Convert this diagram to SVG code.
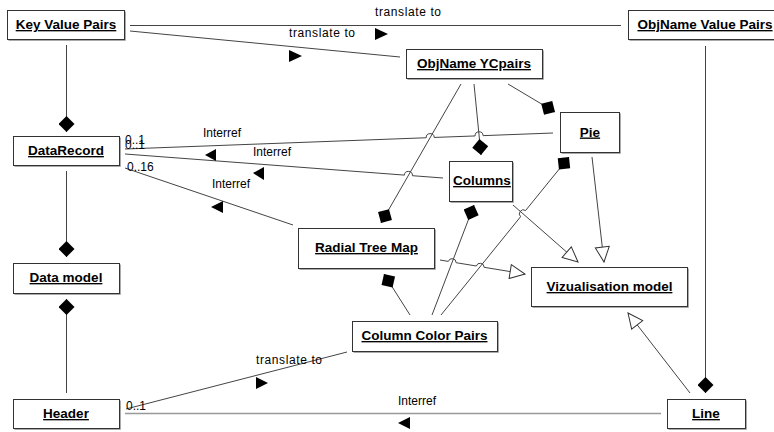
<svg xmlns="http://www.w3.org/2000/svg" width="774" height="432" viewBox="0 0 774 432">
<style>
.box{fill:#fff;stroke:#333;stroke-width:1}
.sh{fill:none;stroke:#aaa;stroke-width:1}
.nm{font-family:"Liberation Sans",Arial,sans-serif;font-size:13.5px;font-weight:bold;text-decoration:underline;fill:#000;text-anchor:middle}
.lb{font-family:"Liberation Sans",Arial,sans-serif;font-size:12px;fill:#000}
.ln{fill:none;stroke:#444;stroke-width:1}
.lg{fill:none;stroke:#999;stroke-width:1.5}
.dir{fill:#000}
</style>
<defs>
<marker id="dia" markerUnits="userSpaceOnUse" markerWidth="16" markerHeight="16" viewBox="0 0 16 16" refX="16" refY="8" orient="auto">
<path d="M0,8 L8,0 L16,8 L8,16 Z" fill="#000"/>
</marker>
<marker id="gen" markerUnits="userSpaceOnUse" markerWidth="17" markerHeight="16" viewBox="-1 -1 17 16" refX="15" refY="7" orient="auto">
<path d="M0,0 L15,7 L0,14 Z" fill="#fff" stroke="#333" stroke-width="1"/>
</marker>
</defs>

<g id="connectors">
<path class="ln" d="M130,25.5 H621"/>
<path class="ln" d="M130,31 L400,57"/>
<path class="ln" d="M66.5,45 V132" marker-end="url(#dia)"/>
<path class="ln" d="M66.5,171 V257" marker-end="url(#dia)"/>
<path class="ln" d="M66.5,393 V299" marker-end="url(#dia)"/>
<path class="ln" d="M705.5,46 V393" marker-end="url(#dia)"/>
<path class="lg" d="M125,413.5 H661"/>
<path class="ln" d="M126,409 L347,352"/>
<path class="ln" d="M125,149 L426.2,137.75 A4,4 0 0 1 434.2,137.45 L475.1,135.95 A4,4 0 0 1 483.1,135.65 L553,133"/>
<path class="ln" d="M125,154 L404.4,175.1 A4,4 0 0 1 412.4,175.7 L443,178"/>
<path class="ln" d="M125,168 L293,225"/>
<path class="ln" d="M508,84 L555,112" marker-end="url(#dia)"/>
<path class="ln" d="M474,84 L481,155" marker-end="url(#dia)"/>
<path class="ln" d="M461,84 L381,223" marker-end="url(#dia)"/>
<path class="ln" d="M410,315 L384,274" marker-end="url(#dia)"/>
<path class="ln" d="M432,315 L474,205" marker-end="url(#dia)"/>
<path class="ln" d="M441,315 L520.6,216.7 A4,4 0 0 1 525.6,210.5 L569,157" marker-end="url(#dia)"/>
<path class="ln" d="M592,157 L604,262" marker-end="url(#gen)"/>
<path class="ln" d="M513,205 L578,262" marker-end="url(#gen)"/>
<path class="ln" d="M440,260 L448.3,261.4 A4,4 0 0 1 456.1,262.7 L476.3,266 A4,4 0 0 1 484.1,267.3 L525,274" marker-end="url(#gen)"/>
<path class="ln" d="M690,393 L628,313" marker-end="url(#gen)"/>

<text class="lb" x="375" y="16" textLength="66" lengthAdjust="spacing">translate to</text>
<path class="dir" d="M375,28 L388,34 L375,40 Z"/>
<text class="lb" x="289" y="37" textLength="66" lengthAdjust="spacing">translate to</text>
<path class="dir" d="M289,50 L302,56 L289,62 Z"/>
<text class="lb" x="203" y="137">Interref</text>
<text class="lb" x="125" y="144">0..1</text>
<text class="lb" x="125" y="149">0..1</text>
<path class="dir" d="M205,155 L216,149 L216,161 Z"/>
<text class="lb" x="253" y="156">Interref</text>
<path class="dir" d="M253,173 L264,167 L264,180 Z"/>
<text class="lb" x="127" y="171">0..16</text>
<text class="lb" x="212" y="188">Interref</text>
<path class="dir" d="M211,207 L223,201 L223,213 Z"/>
<text class="lb" x="256" y="364" textLength="66" lengthAdjust="spacing">translate to</text>
<path class="dir" d="M256,377 L268,383 L256,389 Z"/>
<text class="lb" x="126" y="410">0..1</text>
<text class="lb" x="398" y="405">Interref</text>
<path class="dir" d="M398,423 L410,417 L410,429 Z"/>
</g>

<g id="key-value-pairs"><path class="sh" d="M125.5,11.5 V40.5 H8.5"/><rect class="box" x="7.5" y="10.5" width="117" height="29"/><text class="nm" x="66" y="29">Key Value Pairs</text></g>
<g id="objname-value-pairs"><path class="sh" d="M782.5,11.5 V40.5 H629.5"/><rect class="box" x="628.5" y="10.5" width="153" height="29"/><text class="nm" x="705" y="29">ObjName Value Pairs</text></g>
<g id="objname-ycpairs"><path class="sh" d="M543.5,50.5 V79.5 H407.5"/><rect class="box" x="406.5" y="49.5" width="136" height="29"/><text class="nm" x="474" y="68">ObjName YCpairs</text></g>
<g id="pie"><path class="sh" d="M620.5,113.5 V153.5 H561.5"/><rect class="box" x="560.5" y="112.5" width="59" height="40"/><text class="nm" x="590" y="136.5">Pie</text></g>
<g id="datarecord"><path class="sh" d="M120.5,137.5 V166.5 H14.5"/><rect class="box" x="13.5" y="136.5" width="106" height="29"/><text class="nm" x="66" y="155">DataRecord</text></g>
<g id="columns"><path class="sh" d="M513.5,162.5 V202.5 H450.5"/><rect class="box" x="449.5" y="161.5" width="63" height="40"/><text class="nm" x="482" y="185">Columns</text></g>
<g id="radial-tree-map"><path class="sh" d="M435.5,229.5 V269.5 H299.5"/><rect class="box" x="298.5" y="228.5" width="136" height="40"/><text class="nm" x="366.5" y="252">Radial Tree Map</text></g>
<g id="vizualisation-model"><path class="sh" d="M688.5,268.5 V307.5 H532.5"/><rect class="box" x="531.5" y="267.5" width="156" height="39"/><text class="nm" x="609.5" y="291">Vizualisation model</text></g>
<g id="data-model"><path class="sh" d="M120.5,264.5 V294.5 H14.5"/><rect class="box" x="13.5" y="263.5" width="106" height="30"/><text class="nm" x="66" y="282">Data model</text></g>
<g id="column-color-pairs"><path class="sh" d="M498.5,322.5 V352.5 H353.5"/><rect class="box" x="352.5" y="321.5" width="145" height="30"/><text class="nm" x="424.5" y="340">Column Color Pairs</text></g>
<g id="header"><path class="sh" d="M120.5,400.5 V429.5 H14.5"/><rect class="box" x="13.5" y="399.5" width="106" height="29"/><text class="nm" x="66" y="418">Header</text></g>
<g id="line"><path class="sh" d="M746.5,400.5 V429.5 H668.5"/><rect class="box" x="667.5" y="399.5" width="78" height="29"/><text class="nm" x="706" y="418">Line</text></g>
</svg>
